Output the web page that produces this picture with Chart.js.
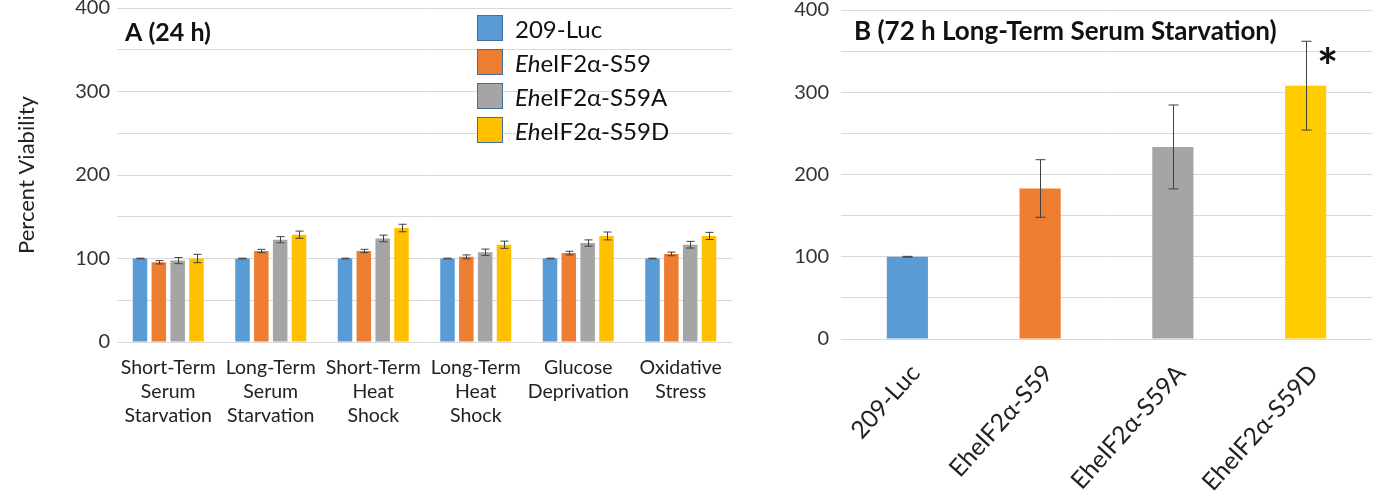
<!DOCTYPE html>
<html>
<head>
<meta charset="utf-8">
<script src="https://cdn.jsdelivr.net/npm/chart.js@4.4.1/dist/chart.umd.min.js"></script>
<style>
  body { margin: 0; background: #fff; width: 1378px; height: 499px; overflow: hidden; position: relative; font-family: Lato, sans-serif; }
  #wrapA { position: absolute; left: 0; top: 0; width: 750px; height: 499px; }
  #wrapB { position: absolute; left: 760px; top: 0; width: 618px; height: 499px; }
  #legend { position: absolute; left: 477px; top: 15px; font-size: 24px; color: #111; }
  .row { display: flex; align-items: center; height: 26px; margin-bottom: 8px; }
  .sw { width: 24px; height: 24px; border: 1px solid #41719c; margin-right: 12px; }
</style>
</head>
<body>
<div id="wrapA"><canvas id="chartA" width="750" height="499"></canvas></div>
<div id="wrapB"><canvas id="chartB" width="618" height="499"></canvas></div>
<div id="legend"></div>
<script>
// panel A - 24 h stresses
var conditions = [
  ['Short-Term', 'Serum', 'Starvation'],
  ['Long-Term', 'Serum', 'Starvation'],
  ['Short-Term', 'Heat', 'Shock'],
  ['Long-Term', 'Heat', 'Shock'],
  ['Glucose', 'Deprivation'],
  ['Oxidative', 'Stress']
];
var luc = [100, 100, 100, 100, 100, 100];
var s59 = [95.5, 109, 109, 102, 106.5, 105.5];
var s59A = [97.5, 122.5, 124, 107.5, 118.5, 116.5];
var s59D = [100, 128.5, 136.5, 116.5, 127, 127];
var lucErr = [0.4, 0.4, 0.4, 0.4, 0.4, 0.4];
var s59Err = [2, 2, 2, 2.3, 2.2, 2.2];
var s59AErr = [3.7, 3.7, 4, 3.8, 3.8, 4];
var s59DErr = [5, 4.3, 4.5, 4.3, 4.7, 4.3];

// panel B - 72 h long-term serum starvation
var strains = ['209-Luc', 'EheIF2α-S59', 'EheIF2α-S59A', 'EheIF2α-S59D'];
var viability72 = [100, 183, 233.5, 308];
var viability72Err = [0.5, 35, 51, 54];

var legendNames = ['209-Luc', '<i>Eh</i>eIF2α-S59', '<i>Eh</i>eIF2α-S59A', '<i>Eh</i>eIF2α-S59D'];
var colors = ['#5b9bd5', '#ed7d31', '#a5a5a5', '#ffc000'];
var colorsB = ['#5b9bd5', '#ed7d31', '#a5a5a5', '#ffcc00'];

var leg = document.getElementById('legend');
legendNames.forEach(function (n, i) {
  leg.innerHTML += '<div class="row"><div class="sw" style="background:' + colors[i] + '"></div><span>' + n + '</span></div>';
});

// draws error bars from dataset.errors
var errorBars = {
  id: 'errorBars',
  afterDatasetsDraw: function (chart, args, opts) {
    var ctx = chart.ctx;
    var y = chart.scales.y;
    ctx.save();
    ctx.strokeStyle = '#404040';
    ctx.lineWidth = 1;
    chart.data.datasets.forEach(function (ds, di) {
      var meta = chart.getDatasetMeta(di);
      meta.data.forEach(function (bar, i) {
        var v = ds.data[i], e = ds.errors[i];
        var top = y.getPixelForValue(v + e), bot = y.getPixelForValue(v - e);
        var x = Math.round(bar.x) + 0.5;
        ctx.beginPath();
        ctx.moveTo(x, top); ctx.lineTo(x, bot);
        ctx.moveTo(x - opts.cap, top); ctx.lineTo(x + opts.cap, top);
        ctx.moveTo(x - opts.cap, bot); ctx.lineTo(x + opts.cap, bot);
        ctx.stroke();
      });
    });
    ctx.restore();
  }
};

var panelTitle = {
  id: 'panelTitle',
  afterDraw: function (chart, args, opts) {
    var ctx = chart.ctx;
    ctx.save();
    ctx.font = 'bold ' + opts.size + 'px Lato';
    ctx.fillStyle = '#111';
    ctx.textBaseline = 'middle';
    ctx.fillText(opts.text, chart.chartArea.left + opts.dx, opts.y);
    if (opts.star) {
      var meta = chart.getDatasetMeta(0);
      var last = meta.data.length - 1;
      var ds = chart.data.datasets[0];
      var sx = meta.data[last].x + 22;
      var sy = chart.scales.y.getPixelForValue(ds.data[last] + ds.errors[last]) + 28;
      ctx.font = 'bold 50px Lato';
      ctx.textAlign = 'center';
      ctx.fillText('*', sx, sy);
    }
    ctx.restore();
  }
};

function yAxis(width, pad) {
  return {
    min: 0, max: 400,
    ticks: {
      stepSize: 50, padding: pad, color: '#333', font: { family: 'Lato', size: 20 },
      callback: function (v) { return v % 100 === 0 ? v : ''; }
    },
    grid: { color: '#d9d9d9', drawTicks: false },
    border: { display: false },
    afterFit: function (s) { s.width = width; s.paddingTop = 0; s.paddingBottom = 0; }
  };
}

var yA = yAxis(117, 7);
yA.title = { display: true, text: 'Percent Viability', color: '#222', font: { family: 'Lato', size: 22 }, padding: { top: 14 } };

new Chart(document.getElementById('chartA'), {
  type: 'bar',
  data: {
    labels: conditions,
    datasets: [
      { label: '209-Luc', data: luc, errors: lucErr, backgroundColor: colors[0] },
      { label: 'EheIF2α-S59', data: s59, errors: s59Err, backgroundColor: colors[1] },
      { label: 'EheIF2α-S59A', data: s59A, errors: s59AErr, backgroundColor: colors[2] },
      { label: 'EheIF2α-S59D', data: s59D, errors: s59DErr, backgroundColor: colors[3] }
    ]
  },
  options: {
    responsive: false,
    animation: false,
    categoryPercentage: 0.735,
    barPercentage: 0.77,
    layout: { padding: { top: 8, right: 18, left: 0, bottom: 0 } },
    scales: {
      x: {
        grid: { display: false }, border: { display: false },
        ticks: { color: '#222', font: { family: 'Lato', size: 19.5, lineHeight: 1.23 }, padding: 6, maxRotation: 0, autoSkip: false },
        afterFit: function (s) { s.height = 157; s.paddingLeft = 0; s.paddingRight = 0; }
      },
      y: yA
    },
    plugins: {
      legend: { display: false },
      tooltip: { enabled: false },
      errorBars: { cap: 4 },
      panelTitle: { text: 'A (24 h)', size: 25, dx: 8, y: 33 }
    }
  },
  plugins: [errorBars, panelTitle]
});

new Chart(document.getElementById('chartB'), {
  type: 'bar',
  data: {
    labels: strains,
    datasets: [{ data: viability72, errors: viability72Err, backgroundColor: colorsB }]
  },
  options: {
    responsive: false,
    animation: false,
    categoryPercentage: 1,
    barPercentage: 0.31,
    layout: { padding: { top: 10, right: 6, left: 0, bottom: 0 } },
    scales: {
      x: {
        grid: { display: false }, border: { display: false },
        ticks: { color: '#222', font: { family: 'Lato', size: 24.5 }, padding: 12, labelOffset: 8, minRotation: 48, maxRotation: 48, autoSkip: false },
        afterFit: function (s) { s.height = 160; s.paddingLeft = 0; s.paddingRight = 0; }
      },
      y: yAxis(81, 12)
    },
    plugins: {
      legend: { display: false },
      tooltip: { enabled: false },
      errorBars: { cap: 5 },
      panelTitle: { text: 'B (72 h Long-Term Serum Starvation)', size: 26, dx: 13, y: 32, star: true }
    }
  },
  plugins: [errorBars, panelTitle]
});
</script>
</body>
</html>
